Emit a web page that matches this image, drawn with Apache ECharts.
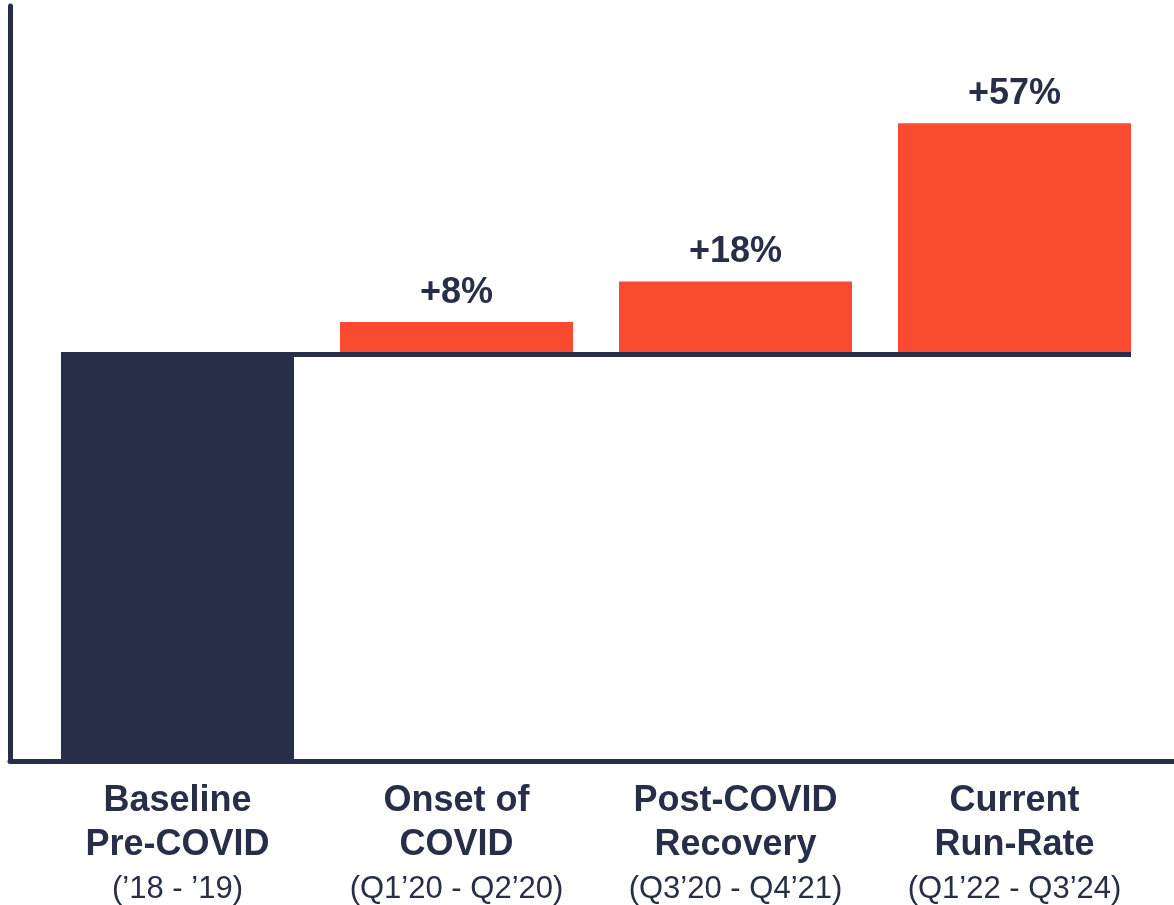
<!DOCTYPE html>
<html>
<head>
<meta charset="utf-8">
<script src="https://cdn.jsdelivr.net/npm/echarts@6/dist/echarts.min.js"></script>
<style>
  html, body { margin: 0; padding: 0; background: #fff; }
  #chart { width: 1174px; height: 905px; }
</style>
</head>
<body>
<div id="chart"></div>
<script>
// 类目标题（两行粗体）与时间段
const titleLines = [
  ['Baseline', 'Pre-COVID'],
  ['Onset of', 'COVID'],
  ['Post-COVID', 'Recovery'],
  ['Current', 'Run-Rate']
]
const periods = ['(’18 - ’19)', '(Q1’20 - Q2’20)', '(Q3’20 - Q4’21)', '(Q1’22 - Q3’24)']
// 基准 = 100，后面是相对基准的增长（%）
const baselineValue = 100
const increases = [null, 8, 18, 57]

const categories = titleLines.map((l) => l.join(' '))
const DARK = '#272f48'
const ORANGE = '#f84b32'
const FONT = '"Liberation Sans", Arial, sans-serif'
const BAR_W = 233

const baseData = categories.map((c, i) => (i === 0 ? 0 : baselineValue))
const baselineData = categories.map((c, i) => (i === 0 ? baselineValue : '-'))
const incData = increases.map((v) => (v == null ? '-' : v))

var myChart = echarts.init(document.getElementById('chart'))
let option = {
  animation: false,
  grid: [
    { left: 38, right: 20, top: 30, bottom: 144 },
    { left: 10, right: 0, top: 6, bottom: 144 }
  ],
  xAxis: [
    {
      type: 'category',
      gridIndex: 0,
      data: categories,
      axisLine: { show: false },
      axisTick: { show: false },
      axisLabel: {
        interval: 0,
        margin: 19,
        formatter: (val, idx) => {
          const l = titleLines[idx]
          return '{b|' + l[0] + '}\n{b|' + l[1] + '}\n{s|' + periods[idx] + '}'
        },
        rich: {
          b: { fontFamily: FONT, fontSize: 36, fontWeight: 'bold', color: DARK, lineHeight: 44 },
          s: { fontFamily: FONT, fontSize: 31, color: DARK, lineHeight: 45 }
        }
      }
    },
    {
      type: 'value',
      gridIndex: 1,
      min: 0,
      max: 1,
      axisLine: { show: true, onZero: false, lineStyle: { color: DARK, width: 5 } },
      axisTick: { show: false },
      axisLabel: { show: false },
      splitLine: { show: false }
    }
  ],
  yAxis: [
    {
      type: 'value',
      gridIndex: 0,
      min: 0,
      max: 180,
      axisLine: { show: false },
      axisTick: { show: false },
      axisLabel: { show: false },
      splitLine: { show: false }
    },
    {
      type: 'value',
      gridIndex: 1,
      min: 0,
      max: 1,
      axisLine: { show: true, onZero: false, lineStyle: { color: DARK, width: 5 } },
      axisTick: { show: false },
      axisLabel: { show: false },
      splitLine: { show: false }
    }
  ],
  series: [
    {
      name: 'base',
      type: 'bar',
      stack: 'w',
      barWidth: BAR_W,
      itemStyle: { color: 'transparent' },
      data: baseData
    },
    {
      name: 'Baseline',
      type: 'bar',
      stack: 'w',
      barWidth: BAR_W,
      itemStyle: { color: DARK },
      data: baselineData
    },
    {
      name: 'Increase',
      type: 'bar',
      stack: 'w',
      barWidth: BAR_W,
      itemStyle: { color: ORANGE },
      label: {
        show: true,
        position: 'top',
        distance: 11,
        formatter: '+{c}%',
        fontFamily: FONT,
        fontSize: 36,
        fontWeight: 'bold',
        color: DARK
      },
      data: incData
    },
    {
      // 基准线
      name: 'baselineRule',
      type: 'custom',
      z: 5,
      data: [[0, baselineValue]],
      renderItem: (params, api) => {
        const a = api.coord([0, baselineValue])
        const b = api.coord([categories.length - 1, baselineValue])
        return {
          type: 'line',
          shape: { x1: a[0] - BAR_W / 2, y1: a[1], x2: b[0] + BAR_W / 2, y2: b[1] },
          style: { stroke: DARK, lineWidth: 5 }
        }
      }
    }
  ]
}
myChart.setOption(option)
</script>
</body>
</html>
